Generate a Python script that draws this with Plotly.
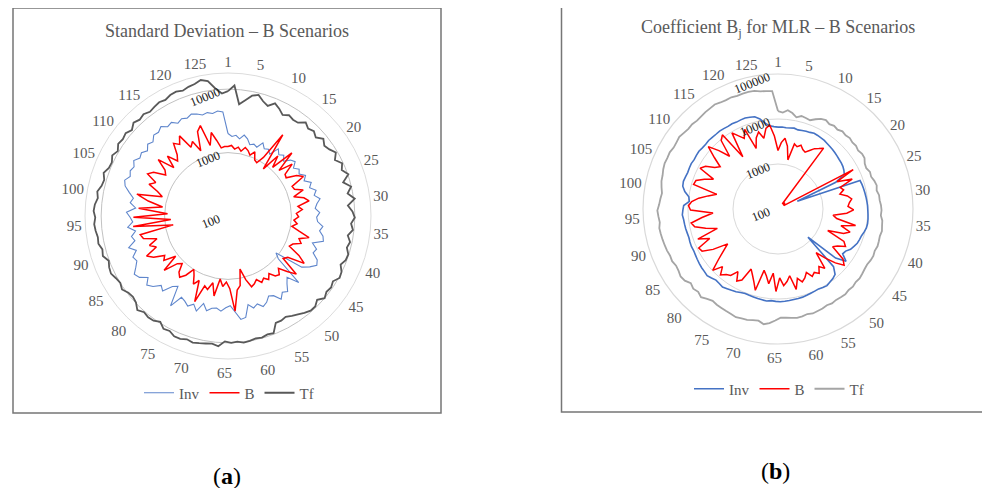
import plotly.graph_objects as go

# ---------------- data ----------------
categories = [str(i) for i in range(1, 128)]
angle_labels = ["1", "5", "10", "15", "20", "25", "30", "35", "40", "45", "50", "55", "60",
                "65", "70", "75", "80", "85", "90", "95", "100", "105", "110", "115", "120", "125"]
series_names = ["Inv", "B", "Tf"]

# (a) Standard Deviation
sd_inv = [2000, 1800, 1900, 1700, 2000, 1800, 1500, 1600, 1500, 1900, 1600, 1700, 1500, 2100, 1800, 2000,
          1700, 2100, 2300, 1900, 2200, 2000, 2400, 2100, 2600, 2300, 2800, 2500, 3000, 2600, 2400, 2800,
          2500, 2600, 3200, 2900, 3400, 3600, 2500, 3100, 2900, 3700, 4000, 3300, 2600, 900, 1100, 3400,
          2200, 2600, 3300, 3000, 3600, 2800, 2600, 3100, 3400, 2900, 3200, 2700, 4200, 4400, 3300, 2600,
          2800, 3200, 2900, 3000, 3400, 2700, 3800, 3100, 3600, 3200, 3000, 4800, 2300, 2600, 3700, 3300,
          4200, 4800, 3900, 5000, 5500, 4600, 4000, 4300, 3500, 4400, 3300, 3600, 3000, 3900, 3200, 3500,
          4000, 2900, 3600, 3300, 4000, 4900, 5300, 4600, 5000, 4700, 5300, 4600, 4900, 4300, 5000, 4600,
          5400, 5200, 5800, 5000, 5300, 4600, 5000, 4700, 5100, 4800, 4400, 4600, 4300, 4600, 4400]
sd_b = [1250, 1300, 1150, 1250, 1100, 1300, 1200, 1050, 1250, 950, 900, 1200, 3500, 850, 1700, 1100,
        2600, 1200, 2000, 1300, 1250, 1800, 2200, 1300, 1350, 1800, 1200, 1700, 2000, 1300, 1500, 1200,
        1300, 1100, 1250, 1050, 1400, 2100, 1500, 1700, 1300, 1200, 1900, 2600, 1400, 1250, 2600, 1900,
        1400, 1700, 1600, 1300, 1550, 1350, 1500, 1250, 1400, 1500, 1100, 720, 1300, 1500, 3200, 1400,
        1100, 1300, 1000, 1900, 1200, 1600, 1450, 2800, 1300, 1600, 1200, 1000, 1400, 1700, 1500, 1100,
        1250, 2100, 1100, 1700, 1500, 2200, 2700, 1700, 2100, 1500, 2400, 2600, 750, 3200, 800, 3100,
        900, 2600, 1100, 1900, 3000, 1200, 1500, 2200, 1800, 2700, 2300, 1500, 1700, 2600, 1400, 2200,
        1500, 1800, 2700, 2300, 3000, 1700, 2000, 1300, 2600, 3100, 1400, 2200, 1600, 1200, 1250]
sd_tf = [9300, 11500, 5900, 7000, 8600, 9300, 7800, 7000, 8400, 7500, 6500, 7200, 6800, 6900, 8300, 7400,
         8000, 7200, 8600, 7600, 8200, 9400, 8000, 9600, 8600, 10200, 7800, 9900, 8300, 10400, 7900, 9200,
         10000, 8800, 9600, 8200, 9300, 8700, 9800, 9600, 8600, 9900, 10300, 8900, 9500, 9100, 10000, 8500,
         9600, 9600, 8800, 8000, 7400, 6800, 7100, 7000, 9600, 9300, 9800, 9500, 10000, 10300, 9700, 10000,
         9500, 11500, 10700, 11000, 11400, 11800, 11200, 12000, 12000, 10800, 11200, 9600, 10600, 10800, 10300, 11500,
         9800, 9300, 9600, 10800, 10000, 10500, 11400, 11000, 10200, 11800, 11200, 12300, 12000, 12600, 13000, 12400,
         13200, 12800, 11800, 12500, 11200, 10800, 11900, 10600, 10400, 11500, 10400, 11800, 11300, 11900, 10800, 12400,
         11500, 12200, 11300, 11900, 12500, 12000, 13000, 13300, 12600, 13500, 14000, 15400, 14200, 10500, 8600]

# (b) Coefficient Bj for MLR
mlr_inv = [6600, 6700, 6500, 6600, 6800, 6500, 6700, 6900, 7000, 7300, 7200, 7000, 6900, 6600, 6400, 6200,
           6000, 5800, 5600, 5500, 5300, 5000, 4600, 2600, 290, 8500, 8800, 9000, 9200, 9400, 9600, 9800,
           9900, 10100, 10300, 10400, 10200, 9600, 8900, 8600, 8300, 7600, 7000, 5900, 5600, 8100, 4800, 820,
           6000, 8500, 9300, 9800, 10500, 10200, 9800, 10000, 10200, 10500, 10800, 10900, 11000, 11200, 11400, 11500,
           11300, 11000, 11500, 11200, 11000, 10700, 10500, 10300, 10800, 11500, 12000, 12600, 13400, 12800, 12500, 13500,
           14500, 14000, 13800, 13400, 13000, 12600, 12300, 12500, 12300, 12000, 12200, 12500, 12700, 12900, 13500, 13000,
           12500, 9500, 10000, 12800, 15000, 15500, 15000, 14600, 14800, 15000, 14500, 14800, 15000, 14500, 14300, 14700,
           14500, 14400, 14600, 14300, 14000, 14200, 13800, 14000, 14200, 13600, 13000, 11000, 8500, 7200, 6800]
mlr_b = [2000, 3000, 3800, 2600, 1300, 3100, 2800, 3200, 2700, 2500, 3000, 3700, 4200, 4900, 140, 150,
         150, 160, 150, 140, 150, 140, 7700, 2800, 6000, 2900, 3300, 2600, 3700, 4500, 3900, 3600,
         4800, 3400, 1700, 2100, 5800, 2800, 4800, 3600, 1600, 4300, 5200, 3600, 3000, 6600, 8500, 5600,
         3300, 1950, 4800, 3700, 5000, 4200, 4800, 3500, 4400, 5100, 4000, 6800, 3200, 4200, 5100, 3400,
         6800, 2700, 4700, 3200, 2500, 7500, 5000, 3700, 2900, 5900, 7000, 4500, 6500, 7200, 8800, 6000,
         9800, 5500, 3400, 2300, 5000, 8500, 9200, 4500, 8000, 2600, 4600, 7800, 9000, 5000, 2800, 8800,
         9800, 8400, 6000, 3800, 2500, 9000, 8500, 5800, 3800, 9000, 7400, 4800, 3900, 6600, 12000, 7000,
         3900, 9500, 11500, 2500, 9500, 7000, 5500, 8300, 2700, 4500, 5800, 4000, 6500, 7500, 4200]
mlr_tf = [15000, 14000, 16000, 14300, 12000, 13500, 13000, 12500, 14500, 16500, 17500, 16000, 17000, 16000, 17500, 16700,
          17500, 16500, 17000, 16000, 17200, 17000, 15000, 14500, 16000, 15500, 17000, 18000, 17000, 18500, 18500, 19500,
          20000, 19500, 21500, 22000, 23000, 22000, 22500, 23000, 22000, 23000, 22500, 21500, 22000, 23000, 24000, 23500,
          25000, 24500, 26000, 25500, 25000, 26000, 25000, 26500, 27000, 28000, 26500, 28000, 28500, 27500, 26500, 26000,
          30000, 35000, 38000, 33000, 34000, 36000, 36500, 38000, 36000, 35000, 34000, 33500, 32000, 35000, 40000, 36000,
          38500, 35000, 41000, 43000, 40000, 39000, 42000, 41000, 43000, 44000, 45000, 46000, 47000, 44000, 46000, 48000,
          44000, 42000, 40000, 43000, 46000, 47000, 50000, 52000, 51000, 52000, 49000, 50000, 52000, 49000, 47000, 48000,
          46000, 47000, 49000, 50000, 52000, 49000, 48000, 49000, 47000, 48000, 48500, 47500, 44000, 43000, 42000]

# ---------------- helpers ----------------
N = len(categories)
step = 360.0 / N
theta = [i * step for i in range(N)] + [360.0]
tick_theta = [categories.index(lbl) * step for lbl in angle_labels]


def closed(v):
    return list(v) + [v[0]]


SERIF = "Liberation Serif"
GREY_TXT = "#595959"

fig = go.Figure()

a_styles = {"Inv": dict(color="#5f86cc", width=1.1),
            "B": dict(color="#ff0000", width=1.5),
            "Tf": dict(color="#595959", width=1.8)}
b_styles = {"Inv": dict(color="#4472c4", width=1.6),
            "B": dict(color="#ff0000", width=1.5),
            "Tf": dict(color="#a5a5a5", width=1.8)}

for name, vals in zip(series_names, [sd_inv, sd_b, sd_tf]):
    fig.add_trace(go.Scatterpolar(r=closed(vals), theta=theta, mode="lines", name=name,
                                  line=a_styles[name], subplot="polar2", legend="legend",
                                  hoverinfo="skip"))
for name, vals in zip(series_names, [mlr_inv, mlr_b, mlr_tf]):
    fig.add_trace(go.Scatterpolar(r=closed(vals), theta=theta, mode="lines", name=name,
                                  line=b_styles[name], subplot="polar3", legend="legend2",
                                  hoverinfo="skip"))

# geometry: target window pixels -> paper (page body adds an 8px offset)
W, H = 990, 488
OFF = 8


def px(x):
    return (x - OFF) / W


def py(y):
    return (H - (y - OFF)) / H


def dom(cx, cy, rad):
    return dict(x=[px(cx - rad), px(cx + rad)], y=[py(cy + rad), py(cy - rad)])


dom_a = dom(228, 216, 143)
dom_b = dom(778, 209, 135)

minor_vals = [m * 10 ** e for e in (2, 3) for m in range(2, 10)]

ang_common = dict(rotation=90, direction="clockwise", thetaunit="degrees",
                  showgrid=False, ticks="")

fig.update_layout(
    width=W, height=H, autosize=False,
    margin=dict(l=0, r=0, t=0, b=0),
    paper_bgcolor="white", plot_bgcolor="white",
    showlegend=True,
    polar=dict(
        domain=dom_a, bgcolor="white",
        radialaxis=dict(type="log", range=[2, 4.255], tickmode="array", tickvals=minor_vals,
                        showticklabels=False,
                        gridcolor="#ededed", gridwidth=1, showline=False, ticks=""),
        angularaxis=dict(**ang_common, showticklabels=False, showline=False),
    ),
    polar2=dict(
        domain=dom_a, bgcolor="rgba(0,0,0,0)",
        radialaxis=dict(type="log", range=[2, 4.255], tickmode="array",
                        tickvals=[100, 1000, 10000], ticktext=["100", "1000", "10000"],
                        gridcolor="#c2c2c2", gridwidth=1, showline=False, ticks="",
                        angle=90, side="counterclockwise", tickangle=68,
                        tickfont=dict(family=SERIF, size=12.5, color="#1a1a1a")),
        angularaxis=dict(**ang_common, tickmode="array", tickvals=tick_theta, ticktext=angle_labels,
                         showline=True, linecolor="#dcdcdc", linewidth=1,
                         tickfont=dict(family=SERIF, size=15, color=GREY_TXT)),
    ),
    polar3=dict(
        domain=dom_b, bgcolor="white",
        radialaxis=dict(type="log", range=[2, 5], tickmode="array",
                        tickvals=[100, 1000, 10000, 100000],
                        ticktext=["100", "1000", "10000", "100000"],
                        gridcolor="#d9d9d9", gridwidth=1.2, showline=False, ticks="",
                        angle=90, side="counterclockwise", tickangle=68,
                        tickfont=dict(family=SERIF, size=12.5, color="#1a1a1a")),
        angularaxis=dict(**ang_common, tickmode="array", tickvals=tick_theta, ticktext=angle_labels,
                         showline=True, linecolor="#d9d9d9", linewidth=1.2,
                         tickfont=dict(family=SERIF, size=15, color=GREY_TXT)),
    ),
    legend=dict(orientation="h", x=px(229), xanchor="center", y=py(393), yanchor="middle",
                font=dict(family=SERIF, size=15, color=GREY_TXT), bgcolor="rgba(0,0,0,0)"),
    legend2=dict(orientation="h", x=px(779), xanchor="center", y=py(389), yanchor="middle",
                 font=dict(family=SERIF, size=15, color=GREY_TXT), bgcolor="rgba(0,0,0,0)"),
    shapes=[
        dict(type="rect", xref="paper", yref="paper", x0=px(13), x1=px(441),
             y0=py(413), y1=py(8), line=dict(color="#767676", width=1.5)),
        dict(type="rect", xref="paper", yref="paper", x0=px(561.5), x1=px(1010),
             y0=py(412), y1=py(5), line=dict(color="#767676", width=1.5)),
    ],
    annotations=[
        dict(text="Standard Deviation \u2013 B Scenarios", x=px(227), y=py(31),
             xref="paper", yref="paper", showarrow=False, xanchor="center", yanchor="middle",
             font=dict(family=SERIF, size=18, color=GREY_TXT)),
        dict(text="Coefficient B<sub>j</sub> for MLR \u2013 B Scenarios", x=px(777.5), y=py(28),
             xref="paper", yref="paper", showarrow=False, xanchor="center", yanchor="middle",
             font=dict(family=SERIF, size=18, color=GREY_TXT)),
        dict(text="(<b>a</b>)", x=px(227), y=py(476), xref="paper", yref="paper",
             showarrow=False, xanchor="center", yanchor="middle",
             font=dict(family=SERIF, size=24, color="#000000")),
        dict(text="(<b>b</b>)", x=px(775), y=py(471), xref="paper", yref="paper",
             showarrow=False, xanchor="center", yanchor="middle",
             font=dict(family=SERIF, size=24, color="#000000")),
    ],
)

fig.write_html("out.html")
